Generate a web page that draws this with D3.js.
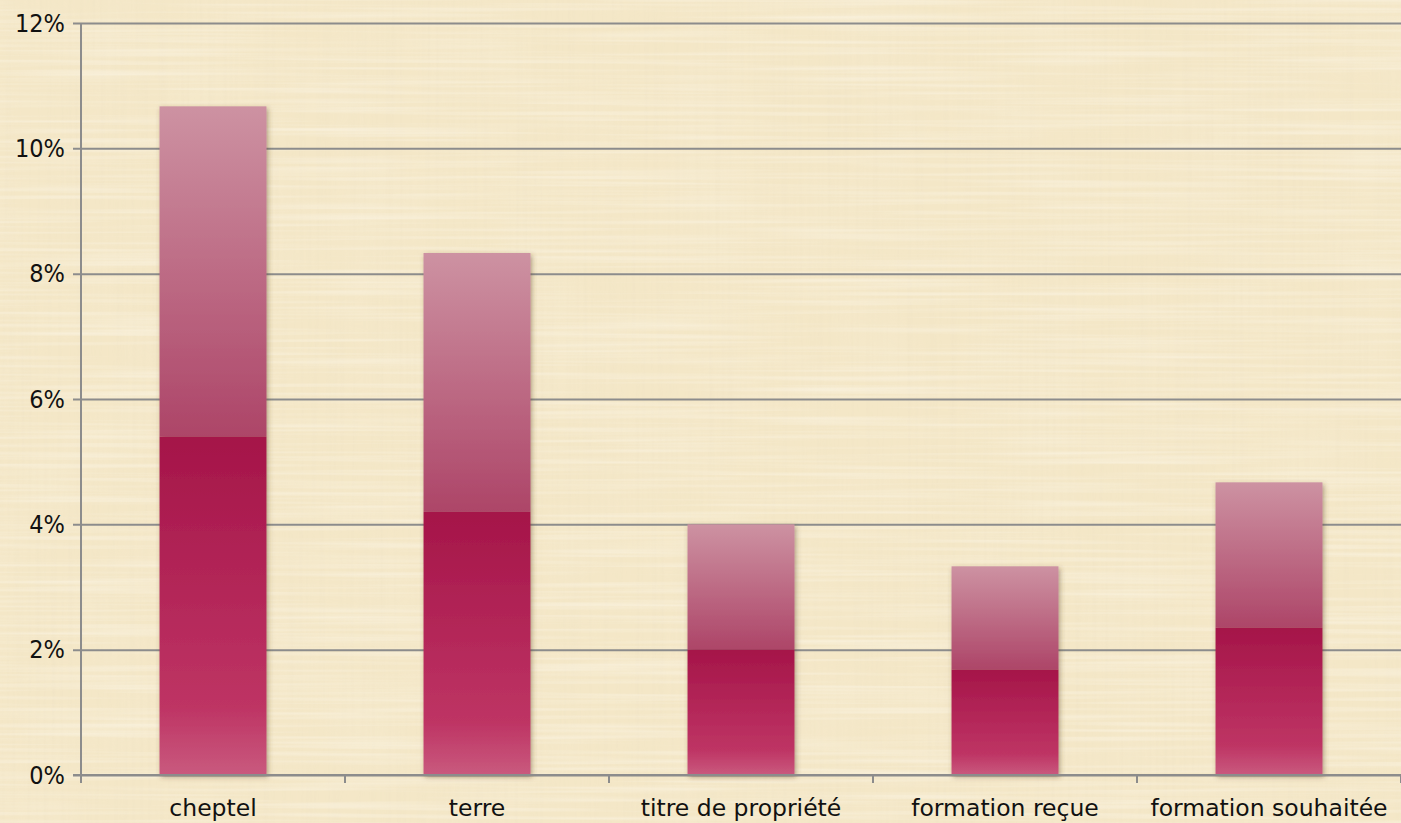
<!DOCTYPE html>
<html>
<head>
<meta charset="utf-8">
<script src="https://cdn.jsdelivr.net/npm/d3@7"></script>
<style>
  html, body { margin: 0; padding: 0; background: #f4e7c7; }
  svg { display: block; }
</style>
</head>
<body>
<div id="chart"></div>
<script>
var categories = ["cheptel", "terre", "titre de propriété", "formation reçue", "formation souhaitée"];
var lowerValues = [0.054, 0.042, 0.020, 0.0168, 0.0235];
var upperValues = [0.0527, 0.0413, 0.020, 0.0165, 0.0232];
var yTicks = [0, 0.02, 0.04, 0.06, 0.08, 0.10, 0.12];

var W = 1401, H = 823;
var margin = {top: 23, right: 0, bottom: 48, left: 81};

var svg = d3.select("#chart")
	.append("svg")
	.attr("width", W)
	.attr("height", H);

var defs = svg.append("defs");

// parchment texture: fine vertical and horizontal fibres
var tex = defs.append("filter").attr("id", "paper")
	.attr("x", 0).attr("y", 0).attr("width", "100%").attr("height", "100%");
tex.append("feTurbulence").attr("type", "fractalNoise")
	.attr("baseFrequency", "0.25 0.004").attr("numOctaves", 2).attr("seed", 4).attr("result", "v");
tex.append("feColorMatrix").attr("in", "v").attr("type", "matrix")
	.attr("values", "0 0 0 0 0.86  0 0 0 0 0.76  0 0 0 0 0.55  0 0 0 1.3 -0.55").attr("result", "vc");
tex.append("feTurbulence").attr("type", "fractalNoise")
	.attr("baseFrequency", "0.004 0.25").attr("numOctaves", 2).attr("seed", 9).attr("result", "h");
tex.append("feColorMatrix").attr("in", "h").attr("type", "matrix")
	.attr("values", "0 0 0 0 1  0 0 0 0 0.98  0 0 0 0 0.92  0 0 0 1.3 -0.55").attr("result", "hc");
tex.append("feTurbulence").attr("type", "fractalNoise")
	.attr("baseFrequency", "0.012 0.012").attr("numOctaves", 2).attr("seed", 2).attr("result", "b");
tex.append("feColorMatrix").attr("in", "b").attr("type", "matrix")
	.attr("values", "0 0 0 0 0.93  0 0 0 0 0.85  0 0 0 0 0.66  0 0 0 1 -0.45").attr("result", "bc");
tex.append("feMerge").selectAll("feMergeNode")
	.data(["bc", "vc", "hc"]).enter().append("feMergeNode").attr("in", function (d) { return d; });

var shadow = defs.append("filter").attr("id", "shadow")
	.attr("x", "-10%").attr("y", "-10%").attr("width", "130%").attr("height", "120%");
shadow.append("feDropShadow").attr("dx", 1.5).attr("dy", 2).attr("stdDeviation", 2.5)
	.attr("flood-color", "#5a4020").attr("flood-opacity", 0.45);

function gradient(id, stops) {
	var g = defs.append("linearGradient").attr("id", id)
		.attr("x1", 0).attr("y1", 0).attr("x2", 0).attr("y2", 1);
	stops.forEach(function (s) {
		g.append("stop").attr("offset", s[0]).attr("stop-color", s[1]);
	});
}
gradient("gLower", [[0, "#a51549"], [0.8, "#be3464"], [1, "#c95a7e"]]);
gradient("gUpper", [[0, "#cd92a2"], [1, "#ad4568"]]);

svg.append("rect").attr("width", W).attr("height", H).attr("fill", "#f4e7c7");
svg.append("rect").attr("width", W).attr("height", H).attr("fill", "#f4e7c7")
	.attr("filter", "url(#paper)").attr("opacity", 0.6);

var x = d3.scaleBand()
	.domain(categories)
	.range([margin.left, W - margin.right])
	.padding(0);

var y = d3.scaleLinear()
	.domain([0, 0.12])
	.range([H - margin.bottom, margin.top]);

var barW = x.bandwidth() * 0.405;

// y axis with gridlines
var yAxis = svg.append("g")
	.attr("transform", "translate(" + margin.left + ",0)")
	.call(d3.axisLeft(y).tickValues(yTicks).tickFormat(d3.format(".0%"))
		.tickSize(-(W - margin.left - margin.right)).tickPadding(16));
yAxis.select(".domain").remove();
yAxis.selectAll(".tick line")
	.attr("x1", -8)
	.attr("stroke", "#8c8c8c").attr("stroke-width", 2);
yAxis.selectAll(".tick text")
	.attr("fill", "#111")
	.style("font-family", "'Liberation Sans Narrow', 'DejaVu Sans Condensed', sans-serif")
	.style("font-size", "25px");

// stacked bars
var stacked = categories.map(function (c, i) {
	return {cat: c, lo: lowerValues[i], hi: upperValues[i]};
});

var bars = svg.append("g").selectAll("g").data(stacked).enter().append("g")
	.attr("filter", "url(#shadow)");

bars.append("rect")
	.attr("x", function (d) { return x(d.cat) + (x.bandwidth() - barW) / 2; })
	.attr("width", barW)
	.attr("y", function (d) { return y(d.lo + d.hi); })
	.attr("height", function (d) { return y(d.lo) - y(d.lo + d.hi); })
	.attr("fill", "url(#gUpper)");

bars.append("rect")
	.attr("x", function (d) { return x(d.cat) + (x.bandwidth() - barW) / 2; })
	.attr("width", barW)
	.attr("y", function (d) { return y(d.lo); })
	.attr("height", function (d) { return y(0) - y(d.lo); })
	.attr("fill", "url(#gLower)");

// axes lines
svg.append("line")
	.attr("x1", margin.left).attr("x2", margin.left)
	.attr("y1", y(0.12)).attr("y2", y(0) + 8)
	.attr("stroke", "#8c8c8c").attr("stroke-width", 2);

svg.append("line")
	.attr("x1", margin.left - 8).attr("x2", W - margin.right)
	.attr("y1", y(0)).attr("y2", y(0))
	.attr("stroke", "#8c8c8c").attr("stroke-width", 2);

var bounds = categories.map(function (c) { return x(c); }).concat([W - margin.right]);
svg.append("g").selectAll("line").data(bounds).enter().append("line")
	.attr("x1", function (d) { return d; }).attr("x2", function (d) { return d; })
	.attr("y1", y(0)).attr("y2", y(0) + 8)
	.attr("stroke", "#8c8c8c").attr("stroke-width", 2);

var xAxis = svg.append("g")
	.attr("transform", "translate(0," + y(0) + ")")
	.call(d3.axisBottom(x).tickSize(0).tickPadding(24));
xAxis.select(".domain").remove();
xAxis.selectAll(".tick text")
	.attr("fill", "#111")
	.style("font-family", "'DejaVu Sans', sans-serif")
	.style("font-size", "23.5px");
</script>
</body>
</html>
